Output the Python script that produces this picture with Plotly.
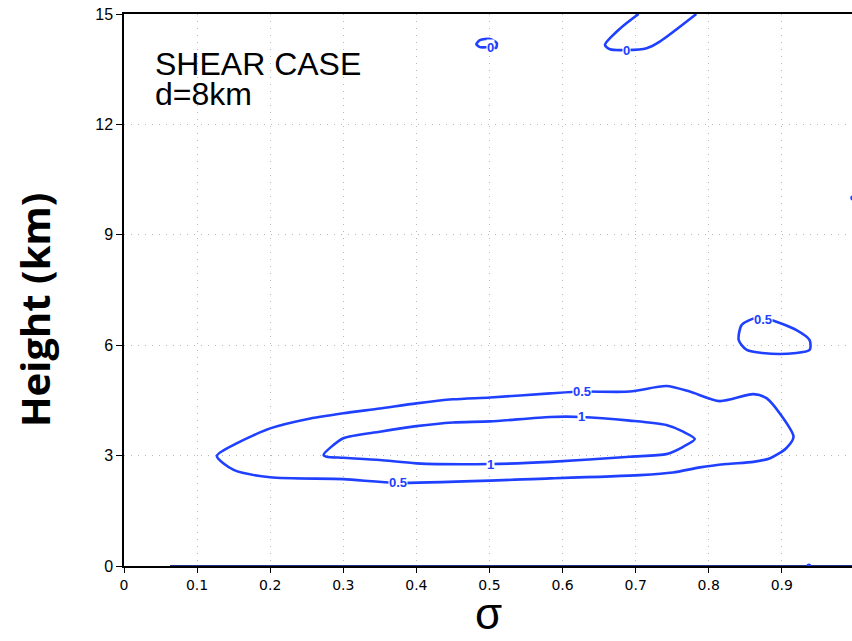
import plotly.graph_objects as go

# ---- data (sigma, height km) ----
outer05_x = [0.127, 0.154, 0.200, 0.250, 0.300, 0.350, 0.400, 0.450, 0.501, 0.583, 0.626, 0.692, 0.742, 0.774,
             0.815, 0.861, 0.879, 0.897, 0.916, 0.906, 0.884, 0.861, 0.824, 0.788, 0.751, 0.706, 0.583, 0.375,
             0.300, 0.200, 0.150, 0.127]
outer05_y = [2.99, 3.33, 3.74, 3.99, 4.15, 4.28, 4.42, 4.53, 4.58, 4.69, 4.74, 4.74, 4.89, 4.74,
             4.48, 4.67, 4.56, 4.15, 3.51, 3.20, 2.93, 2.83, 2.77, 2.68, 2.54, 2.47, 2.38, 2.26,
             2.36, 2.41, 2.61, 2.99]

inner1_x = [0.273, 0.300, 0.350, 0.400, 0.450, 0.501, 0.583, 0.626, 0.692, 0.742, 0.765, 0.781, 0.765, 0.742,
            0.692, 0.583, 0.501, 0.400, 0.350, 0.300, 0.277, 0.273]
inner1_y = [3.02, 3.47, 3.65, 3.80, 3.90, 3.93, 4.05, 4.05, 3.95, 3.83, 3.65, 3.45, 3.24, 3.04,
            2.97, 2.83, 2.77, 2.79, 2.88, 2.94, 2.97, 3.02]

loop05_x = [0.874, 0.863, 0.845, 0.841, 0.852, 0.897, 0.938, 0.938, 0.920, 0.886, 0.874]
loop05_y = [6.71, 6.73, 6.55, 6.14, 5.87, 5.76, 5.87, 6.14, 6.41, 6.68, 6.71]

top0_x = [0.704, 0.679, 0.658, 0.665, 0.688, 0.715, 0.733, 0.783]
top0_y = [15.0, 14.61, 14.16, 14.04, 14.02, 14.07, 14.25, 15.0]

small0_x = [0.482, 0.487, 0.501, 0.510, 0.509, 0.501, 0.487, 0.482]
small0_y = [14.18, 14.29, 14.32, 14.21, 14.08, 14.10, 14.10, 14.18]

base0_x = [0.063, 0.996]
base0_y = [0.0, 0.0]

dots_x = [0.937, 0.997]
dots_y = [0.0, 10.0]

label_text = ["0.5", "0.5", "1", "1", "0.5", "0", "0"]
label_x = [0.626, 0.375, 0.626, 0.501, 0.874, 0.688, 0.501]
label_y = [4.74, 2.26, 4.05, 2.77, 6.71, 14.02, 14.08]

x_ticks = [0, 0.1, 0.2, 0.3, 0.4, 0.5, 0.6, 0.7, 0.8, 0.9]
x_tick_text = ["0", "0.1", "0.2", "0.3", "0.4", "0.5", "0.6", "0.7", "0.8", "0.9"]
y_ticks = [0, 3, 6, 9, 12, 15]

BLUE = "#2040ff"

fig = go.Figure()
for xs, ys in [(outer05_x, outer05_y), (inner1_x, inner1_y), (loop05_x, loop05_y),
               (top0_x, top0_y), (small0_x, small0_y)]:
    fig.add_trace(go.Scatter(x=xs, y=ys, mode="lines",
                             line=dict(color=BLUE, width=2.6, shape="spline", smoothing=0.7),
                             hoverinfo="skip", showlegend=False))

fig.add_trace(go.Scatter(x=base0_x, y=base0_y, mode="lines", line=dict(color="#1c2f8a", width=2.2),
                         showlegend=False, cliponaxis=False))
fig.add_trace(go.Scatter(x=dots_x, y=dots_y, mode="markers",
                         marker=dict(color=BLUE, size=5), showlegend=False))

for t, xx, yy in zip(label_text, label_x, label_y):
    fig.add_annotation(x=xx, y=yy, text="<b>%s</b>" % t, showarrow=False,
                       font=dict(family="Liberation Sans, Arial", size=13, color=BLUE),
                       bgcolor="white", borderpad=0)

fig.add_annotation(x=0.039, y=13.64, xref="x", yref="y", text="SHEAR CASE", showarrow=False,
                   xanchor="left", yanchor="middle",
                   font=dict(family="Liberation Sans, Arial", size=32, color="black"))
fig.add_annotation(x=0.039, y=12.82, xref="x", yref="y", text="d=8km", showarrow=False,
                   xanchor="left", yanchor="middle",
                   font=dict(family="Liberation Sans, Arial", size=32, color="black"))

# y-axis title as a rotated annotation (paper coordinates)
fig.add_annotation(x=(35 - 124) / (852 - 124), y=(566 - 310) / (566 - 14), xref="paper", yref="paper",
                   text="<b>Height (km)</b>", showarrow=False, textangle=-90,
                   xanchor="center", yanchor="middle",
                   font=dict(family="Open Sans", size=40, color="black"))

# x-axis title (sigma) as an annotation anchored at its bottom
fig.add_annotation(x=0.5, y=(566 - 640) / (566 - 14), xref="paper", yref="paper",
                   text="σ", showarrow=False, xanchor="center", yanchor="bottom",
                   font=dict(family="Liberation Sans, Arial", size=44, color="black"))

fig.update_layout(
    width=852, height=641,
    margin=dict(l=124, r=0, t=14, b=75),
    paper_bgcolor="white", plot_bgcolor="white",
    xaxis=dict(range=[0, 0.996], tickvals=x_ticks, ticktext=x_tick_text,
               showgrid=True, gridcolor="#b8b8b8", griddash="1px,6px", gridwidth=1,
               showline=True, linecolor="black", linewidth=1.5, mirror=True,
               ticks="outside", ticklen=5, tickcolor="black", zeroline=False,
               tickfont=dict(family="DejaVu Sans", size=14, color="black")),
    yaxis=dict(range=[0, 15], tickvals=y_ticks,
               showgrid=True, gridcolor="#b8b8b8", griddash="1px,6px", gridwidth=1,
               showline=True, linecolor="black", linewidth=1.5, mirror=False,
               ticks="outside", ticklen=6, tickcolor="black", zeroline=False,
               tickfont=dict(family="Liberation Sans, Arial", size=16, color="black")),
)

fig.write_html("out.html")
